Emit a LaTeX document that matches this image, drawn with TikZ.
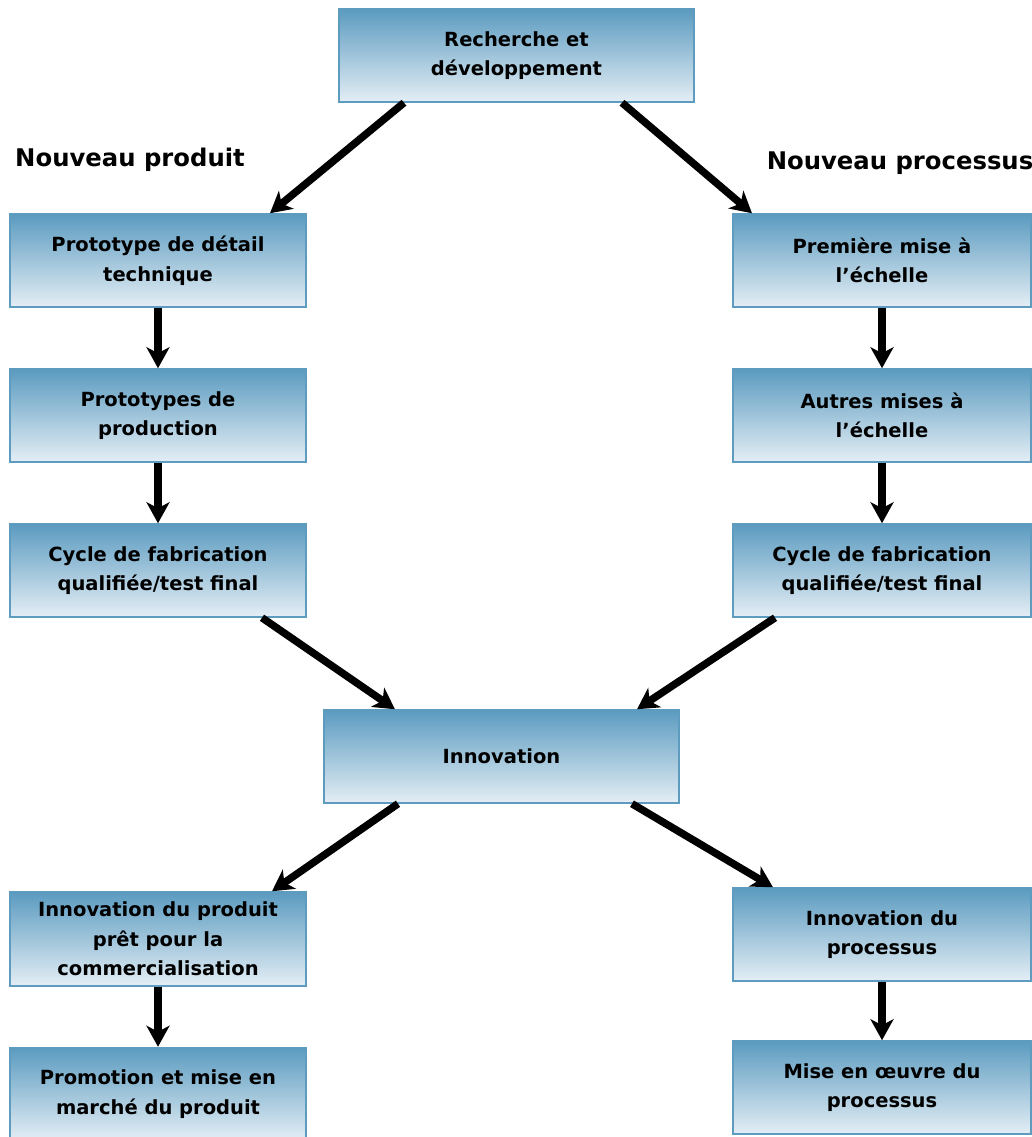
\documentclass[tikz,border=0pt]{standalone}
\usepackage{fontspec}
\setmainfont{DejaVu Sans}
\usepackage{tikz}
\usetikzlibrary{arrows.meta}

\definecolor{boxtop}{HTML}{5B9BC0}
\definecolor{boxmid}{HTML}{9DC0D7}
\definecolor{boxbot}{HTML}{E4EEF5}
\definecolor{boxline}{HTML}{5D9CBF}

\begin{document}
\begin{tikzpicture}[x=1pt,y=-1pt,
  box/.style={draw=boxline, line width=1.5pt, rectangle, inner sep=0pt,
    minimum width=296pt, minimum height=93pt, align=center,
    top color=boxtop, middle color=boxmid, bottom color=boxbot,
    font=\fontsize{19.5}{29.5}\selectfont\bfseries},
  wide/.style={box, minimum width=355pt},
  head/.style={font=\fontsize{24.3}{30}\selectfont\bfseries},
  arr/.style={line width=7.5pt, -{Stealth[length=21pt,width=23pt,inset=6pt]}}]
\useasboundingbox (0,0) rectangle (1032,1137);
\begin{scope}[shift={(0,0)}]
\node[wide] (rd) at (516.5,55.5) {Recherche et\\développement};
\node[head] (np) at (130,160) {Nouveau produit};
\node[head] (nq) at (900,163) {Nouveau processus};
\node[box] (p1) at (158,260.5) {Prototype de détail\\technique};
\node[box] (p2) at (158,415.5) {Prototypes de\\production};
\node[box] (p3) at (158,570.5) {Cycle de fabrication\\qualifiée/test final};
\node[box, minimum width=298pt] (q1) at (882,260.5) {Première mise à\\l’échelle};
\node[box, minimum width=298pt] (q2) at (882,415.5) {Autres mises à\\l’échelle};
\node[box, minimum width=298pt] (q3) at (882,570.5) {Cycle de fabrication\\qualifiée/test final};
\node[wide] (in) at (501.5,756.5) {Innovation};
\node[box, minimum height=94pt] (p4) at (158,939) {Innovation du produit\\prêt pour la\\commercialisation};
\node[box] (p5) at (158,1094) {Promotion et mise en\\marché du produit};
\node[box, minimum width=298pt] (q4) at (882,934.5) {Innovation du\\processus};
\node[box, minimum width=298pt] (q5) at (882,1087.5) {Mise en œuvre du\\processus};
\draw[arr] ([xshift=-112.5pt]rd.south) -- ([xshift=112pt]p1.north);
\draw[arr] ([xshift=105.5pt]rd.south) -- ([xshift=-130pt]q1.north);
\draw[arr] (p1) -- (p2);
\draw[arr] (p2) -- (p3);
\draw[arr] (q1) -- (q2);
\draw[arr] (q2) -- (q3);
\draw[arr] ([xshift=104pt]p3.south) -- ([xshift=-106.5pt]in.north);
\draw[arr] ([xshift=-107pt]q3.south) -- ([xshift=135.5pt]in.north);
\draw[arr] ([xshift=-103.5pt]in.south) -- ([xshift=114pt]p4.north);
\draw[arr] ([xshift=130.5pt]in.south) -- ([xshift=-109pt]q4.north);
\draw[arr] (p4) -- (p5);
\draw[arr] (q4) -- (q5);
\end{scope}
\end{tikzpicture}
\end{document}
